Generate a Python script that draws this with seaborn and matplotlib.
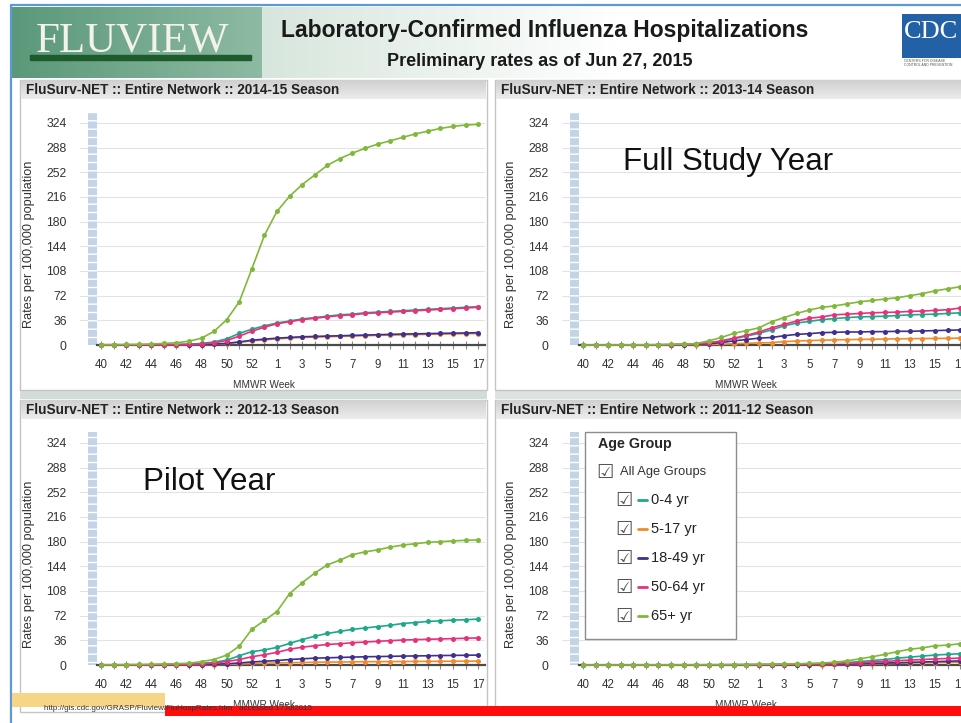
import numpy as np
import pandas as pd
import seaborn as sns
import matplotlib.pyplot as plt
import matplotlib.colors as mcolors
from matplotlib.patches import Rectangle
from matplotlib.lines import Line2D

# ---- data ----
weeks = list(range(40, 54)) + list(range(1, 18))   # MMWR weeks 40..53, 1..17
age_groups = ['0-4 yr', '5-17 yr', '18-49 yr', '50-64 yr', '65+ yr']
age_colors = ['#1ea88a', '#f08a2a', '#3f2f8e', '#e8317a', '#80b83a']
seasons = ['2014-15', '2013-14', '2012-13', '2011-12']

r1415_0_4 = [0, 0, 0, 0.1, 0.2, 0.4, 0.7, 1.2, 2.2, 4.5, 9, 17, 23, 28, 32, 35, 38, 40, 42, 44,
             45, 47, 48, 49, 50, 51, 52, 53, 54, 55, 56]
r1415_5_17 = [0, 0, 0, 0, 0.1, 0.1, 0.2, 0.3, 0.5, 1.0, 2.0, 3.8, 6, 7.5, 9, 10, 11, 11.5, 12, 12.5,
              13, 13.5, 14, 14.4, 14.8, 15.2, 15.5, 15.8, 16.1, 16.4, 16.7]
r1415_18_49 = [0, 0, 0, 0, 0.1, 0.1, 0.2, 0.3, 0.6, 1.2, 2.5, 4.5, 7, 8.5, 10, 11, 12, 12.5, 13, 13.5,
               14, 14.5, 15, 15.5, 16, 16.3, 16.6, 17, 17.3, 17.6, 18]
r1415_50_64 = [0, 0, 0, 0.1, 0.2, 0.3, 0.5, 0.9, 1.6, 3.2, 6.5, 13, 20, 26, 31, 34, 37, 39, 41, 43,
               44, 46, 47, 48, 49, 50, 51, 52, 53, 54, 55]
r1415_65 = [0.4, 0.6, 0.8, 1.0, 1.5, 2.2, 3.3, 5.5, 10, 20, 37, 63, 111, 160, 195, 217, 234, 248, 262, 272,
            280, 287, 293, 298, 303, 308, 312, 316, 319, 321, 322]

r1314_0_4 = [0, 0, 0, 0, 0.1, 0.2, 0.3, 0.5, 0.8, 1.4, 3, 5.5, 9, 13, 17, 22, 28, 32, 34.5, 37,
             38.5, 40, 41, 41.5, 42, 43, 44, 44.5, 45, 46, 47]
r1314_5_17 = [0, 0, 0, 0, 0, 0, 0.1, 0.2, 0.3, 0.5, 0.8, 1.2, 1.8, 2.5, 3, 3.5, 5, 5.8, 6.5, 7,
              7.4, 7.8, 8.1, 8.4, 8.7, 9, 9.2, 9.4, 9.6, 9.8, 10]
r1314_18_49 = [0, 0, 0, 0, 0, 0.1, 0.2, 0.3, 0.5, 0.9, 1.8, 3.5, 6, 8, 10, 11, 13.5, 15.5, 16.5, 18,
               18.5, 19, 19, 19.5, 19.5, 20, 20, 20.5, 21, 21.5, 22]
r1314_50_64 = [0, 0, 0, 0, 0.1, 0.2, 0.3, 0.5, 0.8, 1.5, 3, 6, 10, 14, 19, 25, 30, 35, 39, 41,
               44, 45, 46, 47, 47.5, 48, 49, 49.5, 50.5, 51.5, 54]
r1314_65 = [0, 0, 0, 0.1, 0.2, 0.3, 0.5, 0.8, 1.2, 2, 6, 11, 17, 21, 25, 34, 40, 46, 51, 55,
            57, 60, 63, 65, 67, 69, 72, 75, 79, 82, 85]

r1213_0_4 = [0, 0, 0.1, 0.2, 0.3, 0.5, 0.8, 1.2, 2.2, 4, 7, 13.5, 19.5, 22, 25.7, 31.5, 37, 42, 46, 49,
             52, 54, 56, 58, 60.5, 62, 63.5, 64.5, 65.5, 66, 67]
r1213_5_17 = [0, 0, 0, 0, 0, 0.1, 0.1, 0.2, 0.4, 0.6, 1, 1.5, 2.2, 2.6, 3, 3.4, 3.7, 4, 4.2, 4.4,
              4.6, 4.8, 4.9, 5, 5.1, 5.2, 5.3, 5.4, 5.5, 5.6, 5.7]
r1213_18_49 = [0, 0, 0, 0, 0.1, 0.1, 0.2, 0.3, 0.6, 1.0, 1.8, 3, 4.5, 5.5, 6.5, 8, 9, 10, 10.5, 11,
               11.5, 12, 12.3, 12.6, 13, 13.2, 13.5, 13.8, 14, 14.2, 14.5]
r1213_50_64 = [0, 0, 0, 0.1, 0.2, 0.3, 0.5, 0.8, 1.5, 3, 5, 8, 12, 15, 18.5, 23, 26, 28, 30, 31,
               32.5, 33.5, 34.5, 35.5, 36.4, 37, 37.5, 38, 38.5, 39, 39.5]
r1213_65 = [0.3, 0.4, 0.6, 0.8, 1.0, 1.5, 2.0, 2.5, 5, 8, 14.5, 27.5, 52, 65, 78, 104, 120, 134, 146, 153,
            161, 165, 168, 172, 175, 177, 179, 180, 181, 182, 182.5]

r1112_0_4 = [0, 0, 0, 0, 0, 0.1, 0.1, 0.1, 0.2, 0.2, 0.3, 0.3, 0.4, 0.5, 0.6, 0.7, 0.9, 1.1, 1.4, 1.8,
             2.4, 3.5, 5, 6.5, 8, 10, 11.5, 13, 14.5, 15.5, 16.5]
r1112_5_17 = [0, 0, 0, 0, 0, 0, 0, 0, 0.1, 0.1, 0.1, 0.1, 0.2, 0.2, 0.2, 0.3, 0.3, 0.4, 0.5, 0.6,
              0.8, 1, 1.3, 1.7, 2.1, 2.5, 2.9, 3.2, 3.5, 3.8, 4]
r1112_18_49 = [0, 0, 0, 0, 0, 0, 0, 0.1, 0.1, 0.1, 0.1, 0.2, 0.2, 0.2, 0.3, 0.3, 0.4, 0.5, 0.6, 0.8,
               1, 1.3, 1.8, 2.3, 2.8, 3.3, 3.9, 4.4, 4.9, 5.4, 6]
r1112_50_64 = [0, 0, 0, 0, 0, 0, 0.1, 0.1, 0.1, 0.2, 0.2, 0.3, 0.3, 0.4, 0.5, 0.6, 0.7, 0.9, 1.1, 1.4,
               1.8, 2.4, 3.3, 4.2, 5.2, 6.3, 7.2, 8, 8.8, 9.5, 10]
r1112_65 = [0, 0, 0, 0, 0.1, 0.1, 0.2, 0.2, 0.3, 0.3, 0.4, 0.5, 0.6, 0.7, 0.9, 1.1, 1.4, 1.8, 2.3, 3,
            4, 6, 9, 12, 15.5, 19.5, 23, 25, 28, 29, 31]

rates = {
    '2014-15': [r1415_0_4, r1415_5_17, r1415_18_49, r1415_50_64, r1415_65],
    '2013-14': [r1314_0_4, r1314_5_17, r1314_18_49, r1314_50_64, r1314_65],
    '2012-13': [r1213_0_4, r1213_5_17, r1213_18_49, r1213_50_64, r1213_65],
    '2011-12': [r1112_0_4, r1112_5_17, r1112_18_49, r1112_50_64, r1112_65],
}
y_ticks = [0, 36, 72, 108, 144, 180, 216, 252, 288, 324]
notes = {'2013-14': 'Full Study Year', '2012-13': 'Pilot Year'}

rows = []
for s in seasons:
    for g, vals in zip(age_groups, rates[s]):
        for i, v in enumerate(vals):
            rows.append((s, g, i, weeks[i], v))
df = pd.DataFrame(rows, columns=['season', 'age', 'pos', 'week', 'rate'])

# ---- figure ----
sns.set_theme(style='white')
plt.rcParams['font.family'] = ['Liberation Sans', 'DejaVu Sans']
narrow = ['Liberation Sans Narrow', 'Liberation Sans', 'DejaVu Sans']

W, H = 961, 723
fig = plt.figure(figsize=(W / 100, H / 100), dpi=100)


def fx(x):
    return x / W


def fy(y):
    return 1 - y / H


def box(x0, y0, x1, y1, **kw):
    r = Rectangle((fx(x0), fy(y1)), fx(x1) - fx(x0), fy(y0) - fy(y1),
                  transform=fig.transFigure, **kw)
    fig.add_artist(r)
    return r


def gradient_axes(x0, y0, x1, y1, c0, c1, horizontal=True):
    a = fig.add_axes([fx(x0), fy(y1), fx(x1) - fx(x0), fy(y0) - fy(y1)], zorder=-0.5)
    t = np.linspace(0, 1, 64)
    col = np.array([(1 - k) * np.array(mcolors.to_rgb(c0)) + k * np.array(mcolors.to_rgb(c1)) for k in t])
    img = col[None, :, :] if horizontal else col[:, None, :]
    a.imshow(img, aspect='auto', extent=[0, 1, 0, 1])
    a.set_axis_off()
    return a


# header
gradient_axes(262, 7, 620, 78, '#d7e6dc', '#ffffff')
ban = gradient_axes(11, 7, 262, 78, '#5b987a', '#8dbaa2')
ban.add_patch(Rectangle((0.075, 0.25), 0.88, 0.07, color='#1e5b2c', transform=ban.transAxes))
ban.text(0.1, 0.38, 'FLUVIEW', transform=ban.transAxes, family='Liberation Serif',
         fontsize=31, color='#f3f3ea', va='baseline', ha='left')
fig.text(fx(545), fy(31), 'Laboratory-Confirmed Influenza Hospitalizations', ha='center', va='center',
         fontsize=16.5, fontweight='bold', color='#1a1a1a')
fig.text(fx(540), fy(61), 'Preliminary rates as of Jun 27, 2015', ha='center', va='center',
         fontsize=13, fontweight='bold', color='#1a1a1a')
box(902, 14, 966, 58, facecolor='#2361a6', edgecolor='none', zorder=2)
fig.text(fx(904), fy(32), 'CDC', family='Liberation Serif', fontsize=19, color='white',
         va='center', ha='left', zorder=3)
fig.text(fx(904), fy(63), 'CENTERS FOR DISEASE\nCONTROL AND PREVENTION', fontsize=2.5,
         color='#555555', va='center', ha='left', linespacing=1.2)

# outer blue frame
fig.add_artist(Line2D([fx(11), fx(11)], [fy(5), 0], transform=fig.transFigure, color='#5b9bd5', lw=1.6))
fig.add_artist(Line2D([fx(11), 1], [fy(5), fy(5)], transform=fig.transFigure, color='#5b9bd5', lw=1.6))

# panel layout in pixels: (frame x0, frame x1, bar top, body bottom, axes left, axes top)
layout = {
    '2014-15': (20, 487, 80, 390, 80, 112),
    '2013-14': (495, 975, 80, 390, 562, 112),
    '2012-13': (20, 487, 400, 712, 80, 432),
    '2011-12': (495, 975, 400, 712, 562, 432),
}
ax_w, ax_h = 405, 233
palette = dict(zip(age_groups, age_colors))
tick_pos = list(range(0, len(weeks), 2))

box(20, 390, 487, 399, facecolor='#d3ddd7', edgecolor='none', zorder=-1)
box(495, 390, 961, 399, facecolor='#dde3df', edgecolor='none', zorder=-1)

for s in seasons:
    x0, x1, bt, bb, al, at = layout[s]
    box(x0, bt, x1, bb, facecolor='white', edgecolor='#c4c4c4', lw=1.0, zorder=-1)
    bar = gradient_axes(x0 + 1, bt, x1 - 1, bt + 19, '#cfcfcf', '#ececec', horizontal=False)
    bar.text(5 / (x1 - x0), 0.5, f'FluSurv-NET :: Entire Network :: {s} Season',
             transform=bar.transAxes, va='center', ha='left', fontsize=9.8,
             fontweight='bold', family=narrow, color='#222222')

    ax = fig.add_axes([fx(al), fy(at + ax_h), fx(ax_w), ax_h / H])
    ax.set_facecolor('none')
    sub = df[df['season'] == s]
    sns.lineplot(data=sub, x='pos', y='rate', hue='age', hue_order=age_groups, palette=palette,
                 estimator=None, marker='o', markersize=3.6, markeredgewidth=0, linewidth=1.2,
                 legend=False, ax=ax, clip_on=False, zorder=3)
    ax.set_xlim(-1.67, 30.55)
    ax.set_ylim(0, 340)
    ax.set_yticks(y_ticks)
    ax.set_yticklabels([str(v) for v in y_ticks])
    ax.set_xticks(tick_pos)
    ax.set_xticks(range(len(weeks)), minor=True)
    ax.set_xticklabels([str(weeks[i]) for i in tick_pos], family=narrow)
    ax.yaxis.grid(True, color='#e3e3e3', lw=0.8)
    ax.set_axisbelow(True)
    for side in ['top', 'right', 'left']:
        ax.spines[side].set_visible(False)
    ax.spines['bottom'].set_color('#4a4a4a')
    ax.spines['bottom'].set_linewidth(1.6)
    ax.spines['bottom'].set_bounds(-0.32, 30.55)
    ax.spines['bottom'].set_zorder(2.5)
    ax.tick_params(axis='y', length=0, pad=9.5, labelsize=8.8, labelcolor='#333333')
    ax.tick_params(axis='x', which='both', direction='inout', length=6, width=0.8,
                   color='#8a8a8a', pad=7, labelsize=8.3, labelcolor='#333333', bottom=True)
    # light blue strip next to the value axis
    ax.axvspan(-1.03, -0.32, facecolor='#c3d4e6', edgecolor='white', hatch='--', lw=0, zorder=1)
    ax.set_xlabel('MMWR Week', fontsize=7.2, color='#333333', family=narrow)
    ax.xaxis.set_label_coords(0.455, -0.15)
    ax.set_ylabel('Rates per 100,000 population', fontsize=9.2, color='#333333')
    ax.yaxis.set_label_coords(-0.112, 0.43)

    if s in notes:
        nx = 623 if s == '2013-14' else 143
        ny = 162 if s == '2013-14' else 482
        fig.text(fx(nx), fy(ny), notes[s], fontsize=22.5, va='center', ha='left', color='#111111')

# age group legend (bottom-right panel)
box(585, 432, 736, 639, facecolor='white', edgecolor='#8c8c8c', lw=1.0, zorder=5)
fig.text(fx(598), fy(444), 'Age Group', fontsize=10.3, fontweight='bold', va='center', zorder=6)
fig.text(fx(596), fy(472), '\u2611', fontsize=14, color='#555555', va='center',
         family='DejaVu Sans', zorder=6)
fig.text(fx(620), fy(472), 'All Age Groups', fontsize=9.3, va='center', family=narrow,
         color='#333333', zorder=6)
for k, (g, c) in enumerate(zip(age_groups, age_colors)):
    yy = 500 + 29 * k
    fig.text(fx(615), fy(yy), '\u2611', fontsize=14, color='#555555', va='center',
             family='DejaVu Sans', zorder=6)
    fig.add_artist(Line2D([fx(638), fx(647)], [fy(yy), fy(yy)], transform=fig.transFigure,
                          color=c, lw=2, zorder=6))
    fig.text(fx(651), fy(yy), g, fontsize=10.5, va='center', family=narrow, color='#222222', zorder=6)

# footer
box(12, 693, 165, 707, facecolor='#f7d586', edgecolor='none', zorder=6)
box(165, 706, 961, 716, facecolor='#ff0d0d', edgecolor='none', zorder=6)
fig.text(fx(44), fy(708), 'http://gis.cdc.gov/GRASP/Fluview/FluHospRates.htm   accessed 17Jul2015',
         fontsize=5.8, color='#333333', va='center', zorder=7)

fig.savefig('out.png', dpi=100)
